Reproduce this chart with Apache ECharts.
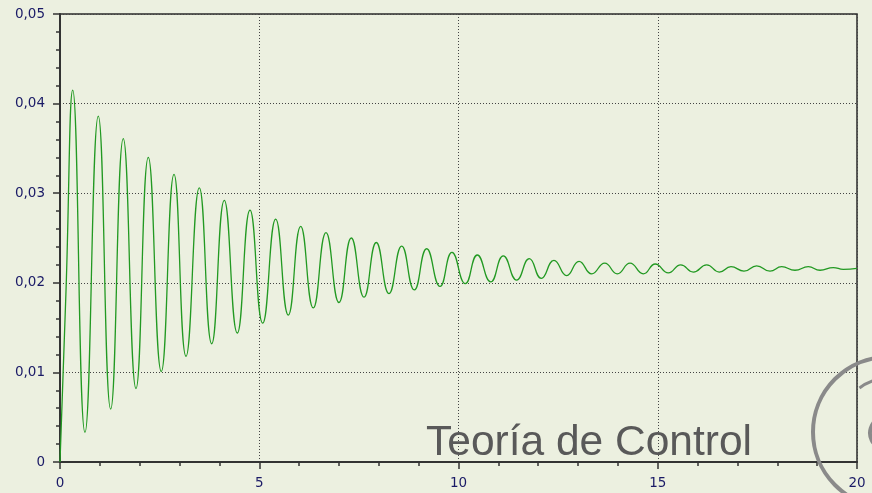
<!DOCTYPE html>
<html>
<head>
<meta charset="utf-8">
<script src="https://cdn.jsdelivr.net/npm/echarts@6/dist/echarts.min.js"></script>
<style>
html,body{margin:0;padding:0;background:#ECF0E0;}
#c{width:872px;height:493px;}
</style>
</head>
<body>
<div id="c"></div>
<script>
// Time (s) of points: start, extremes (peak/trough), end
var times = [0, 0.15, 0.319, 0.627, 0.961, 1.272, 1.588, 1.907, 2.216, 2.542, 2.861, 3.162,
  3.496, 3.807, 4.123, 4.449, 4.768, 5.087, 5.413, 5.729, 6.040, 6.356, 6.675, 7.001,
  7.310, 7.629, 7.937, 8.256, 8.575, 8.891, 9.202, 9.536, 9.837, 10.171, 10.472, 10.808,
  11.124, 11.460, 11.777, 12.078, 12.396, 12.715, 13.024, 13.343, 13.669, 13.985, 14.304,
  14.637, 14.938, 15.265, 15.576, 15.892, 16.228, 16.545, 16.838, 17.164, 17.483, 17.817,
  18.110, 18.444, 18.778, 19.072, 19.405, 19.656, 20.0];
// Response values at those times
var response = [0, 0.019, 0.0415, 0.0033, 0.0386, 0.0059, 0.0361, 0.0082, 0.0340, 0.0101, 0.0321, 0.0118,
  0.0306, 0.0132, 0.0292, 0.0144, 0.0281, 0.0155, 0.0271, 0.0164, 0.0263, 0.0172, 0.0256, 0.0178,
  0.0250, 0.0184, 0.0245, 0.0188, 0.0241, 0.0192, 0.0238, 0.0196, 0.0234, 0.0199, 0.0231, 0.0201,
  0.0230, 0.0203, 0.0227, 0.0205, 0.0225, 0.0208, 0.0224, 0.0210, 0.0222, 0.0210, 0.0222,
  0.0210, 0.0221, 0.0211, 0.0220, 0.0212, 0.0220, 0.0212, 0.0218, 0.0213, 0.0219, 0.0213,
  0.0218, 0.0214, 0.0218, 0.0214, 0.0217, 0.0215, 0.0216];
var xTickLabels = ['0', '5', '10', '15', '20'];
var yTickLabels = ['0', '0,01', '0,02', '0,03', '0,04', '0,05'];
var watermark = 'Teoría de Control';

var seriesData = times.map(function (t, i) { return [t, response[i]]; });

var chart = echarts.init(document.getElementById('c'), null, {renderer: 'canvas'});
var labelColor = '#1a1a66';
var gridLine = {show: true, lineStyle: {color: '#444', type: [1, 2], width: 1}};
chart.setOption({
  backgroundColor: '#ECF0E0',
  animation: false,
  grid: {left: 60, right: 15, top: 14, bottom: 31, show: true, borderColor: '#2a2a2a', borderWidth: 1.5, backgroundColor: 'transparent'},
  xAxis: {
    type: 'value', min: 0, max: 20, interval: 5,
    axisLine: {show: true, lineStyle: {color: '#333', width: 2}},
    axisTick: {show: true, inside: false, length: 7, lineStyle: {color: '#333', width: 1.5}},
    minorTick: {show: true, splitNumber: 5, length: 4, lineStyle: {color: '#333', width: 1.5}},
    splitLine: gridLine,
    axisLabel: {color: labelColor, fontSize: 13.5, fontFamily: 'DejaVu Sans', margin: 14,
      formatter: function (v) { return xTickLabels[Math.round(v / 5)]; }}
  },
  yAxis: {
    type: 'value', min: 0, max: 0.05, interval: 0.01,
    axisLine: {show: true, lineStyle: {color: '#333', width: 2}},
    axisTick: {show: true, inside: false, length: 7, lineStyle: {color: '#333', width: 1.5}},
    minorTick: {show: true, splitNumber: 5, length: 4, lineStyle: {color: '#333', width: 1.5}},
    splitLine: gridLine,
    axisLabel: {color: labelColor, fontSize: 13.5, fontFamily: 'DejaVu Sans', margin: 15,
      formatter: function (v) { return yTickLabels[Math.round(v / 0.01)]; }}
  },
  graphic: [
    {type: 'text', left: 426, top: 422, z: 10, silent: true,
      style: {text: watermark, fill: '#595959', font: '42.5px "Liberation Sans", Arial, sans-serif'}},
    {type: 'circle', z: 10, silent: true, shape: {cx: 888, cy: 432, r: 75},
      style: {fill: 'none', stroke: '#8a8a8a', lineWidth: 4}},
    {type: 'arc', z: 10, silent: true, shape: {cx: 886, cy: 433, r: 16, startAngle: Math.PI * 0.6, endAngle: Math.PI * 1.4},
      style: {fill: 'none', stroke: '#8a8a8a', lineWidth: 4}},
    {type: 'arc', z: 10, silent: true, shape: {cx: 890, cy: 430, r: 52, startAngle: Math.PI * 1.3, endAngle: Math.PI * 1.45},
      style: {fill: 'none', stroke: '#8a8a8a', lineWidth: 3}}
  ],
  series: [{
    type: 'line', data: seriesData, showSymbol: false, smooth: 0.5,
    lineStyle: {color: '#229922', width: 1.3}
  }]
});
</script>
</body>
</html>
